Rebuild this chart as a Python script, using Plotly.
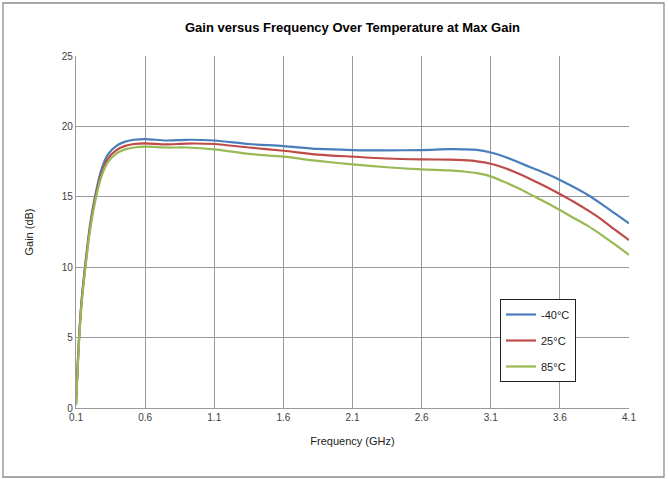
import plotly.graph_objects as go

freq = [0.1, 0.11, 0.122, 0.14, 0.165, 0.2, 0.237, 0.286, 0.33, 0.39, 0.45, 0.52, 0.6, 0.75, 0.9,
        1.1, 1.35, 1.6, 1.85, 2.1, 2.35, 2.6, 2.8, 2.9, 3.0, 3.1, 3.2, 3.3, 3.4, 3.5, 3.6, 3.7, 3.8,
        3.9, 4.0, 4.1]
gain_m40 = [0.3, 2.6, 5.0, 7.6, 10.0, 12.9, 15.0, 17.0, 18.0, 18.6, 18.9, 19.05, 19.1, 19.0, 19.05,
            19.0, 18.75, 18.6, 18.4, 18.32, 18.3, 18.32, 18.38, 18.37, 18.33, 18.15, 17.85, 17.45,
            17.05, 16.65, 16.2, 15.7, 15.15, 14.5, 13.8, 13.12]
gain_25 = [0.3, 2.5, 4.9, 7.5, 9.9, 12.7, 14.8, 16.7, 17.7, 18.3, 18.6, 18.75, 18.8, 18.72, 18.78,
           18.75, 18.5, 18.27, 18.0, 17.85, 17.72, 17.66, 17.64, 17.6, 17.52, 17.35, 17.05, 16.65,
           16.2, 15.72, 15.2, 14.65, 14.05, 13.4, 12.65, 11.93]
gain_85 = [0.2, 2.3, 4.7, 7.3, 9.7, 12.5, 14.6, 16.5, 17.45, 18.05, 18.35, 18.5, 18.56, 18.5, 18.5,
           18.37, 18.05, 17.85, 17.55, 17.3, 17.1, 16.95, 16.88, 16.8, 16.68, 16.45, 16.05, 15.6,
           15.1, 14.6, 14.06, 13.5, 12.95, 12.3, 11.6, 10.87]

series_names = ["-40°C", "25°C", "85°C"]
series_vals = [gain_m40, gain_25, gain_85]
colors = ["#4a7ebb", "#be4b48", "#98b954"]
x_ticks = [0.1, 0.6, 1.1, 1.6, 2.1, 2.6, 3.1, 3.6, 4.1]
y_ticks = [0, 5, 10, 15, 20, 25]

fig = go.Figure()
for name, vals, col in zip(series_names, series_vals, colors):
    fig.add_trace(go.Scatter(x=freq, y=vals, mode="lines", name=name, legendgroup=name,
                             line=dict(color=col, width=2.2, shape="spline", smoothing=0.8)))

W, H = 668, 479
L, R, T, B = 76, 629, 56, 408
pw, ph = R - L, B - T

def px_x(p):
    return (p - L) / pw

def px_y(p):
    return (B - p) / ph

fig.update_layout(
    width=W, height=H,
    margin=dict(l=L, r=W - R, t=T, b=H - B),
    paper_bgcolor="white", plot_bgcolor="white",
    font=dict(family="Liberation Sans, Arial, sans-serif", color="#404040", size=10),
    title=dict(text="<b>Gain versus Frequency Over Temperature at Max Gain</b>",
               x=0.5, xref="paper", xanchor="center", y=1 - 27 / H, yanchor="middle",
               font=dict(size=13, color="#000000")),
    xaxis=dict(range=[0.1, 4.1], tickvals=x_ticks, ticktext=[str(v) for v in x_ticks],
               showgrid=True, gridcolor="#9a9a9a", gridwidth=1.3,
               showline=True, linecolor="#9a9a9a", linewidth=1.3, zeroline=False,
               ticks="", ticklen=0, tickfont=dict(size=10, color="#404040"),
               title=dict(text="Frequency (GHz)", font=dict(size=11, color="#202020"), standoff=15)),
    yaxis=dict(range=[0, 25], tickvals=y_ticks, showgrid=True, gridcolor="#9a9a9a", gridwidth=1.3,
               showline=True, linecolor="#9a9a9a", linewidth=1.3, zeroline=False,
               ticks="", tickfont=dict(size=10, color="#404040"),
               title=dict(text="Gain (dB)", font=dict(size=11, color="#202020"), standoff=25)),
    legend=dict(x=px_x(500), y=px_y(299), xanchor="left", yanchor="top",
                bgcolor="white", bordercolor="#202020", borderwidth=1,
                font=dict(size=11, color="#202020"), tracegroupgap=7,
                itemwidth=30),
    showlegend=True,
)

fig.add_shape(type="rect", xref="paper", yref="paper",
              x0=px_x(3), x1=px_x(664), y0=px_y(477), y1=px_y(3),
              line=dict(color="#8c8c8c", width=1.3), layer="below")

fig.write_html("out.html", config={"displayModeBar": False},
               post_script="document.body.style.margin='0';document.body.style.overflow='hidden';")
